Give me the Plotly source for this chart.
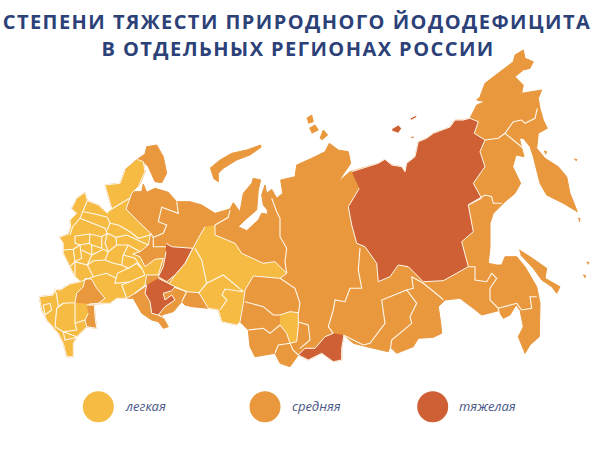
import plotly.graph_objects as go

# цвета степеней тяжести
LIGHT = "#F6BB43"
MEDIUM = "#EA983E"
SEVERE = "#CF6035"
NAVY = "#2C4178"
BORDER = "#FFF9EE"

title_lines = ["СТЕПЕНИ ТЯЖЕСТИ ПРИРОДНОГО ЙОДОДЕФИЦИТА", "В ОТДЕЛЬНЫХ РЕГИОНАХ РОССИИ"]
legend_labels = ["легкая", "средняя", "тяжелая"]
legend_colors = [LIGHT, MEDIUM, SEVERE]
legend_x = [98.3, 265, 432.7]
legend_y = [406.7, 406.7, 406.7]

# контур материка, точки (x, y в пикселях)
mainland = [
    (59.3,237.3),(68.3,234),(70.7,226.7),(70,220),(76.7,213.3),(71.7,208.3),(76.7,198.3),(85,192.3),
    (87.3,200.7),(98.3,205),(107.3,213.3),(111.7,208.3),(105,185),(120,183.3),(125,170),(137.3,159.3),
    (145,154),(146.7,146.7),(156.7,145),(163.3,156.7),(166.7,173.3),(161.7,182.7),(155,181.7),(148.3,166.7),
    (143.3,161.7),(145,171.7),(141,181.7),(138.3,186.7),(131.7,193.3),(133.3,191.7),(141.7,191.7),(143.3,184),
    (146.7,192.3),(155,188.3),(168.3,192.3),(176.7,201.7),(190,201.7),(201.7,205),(215,213.3),(230,209),
    (233.3,202.7),(240,211.7),(243.3,193.3),(251.7,183.3),(253.3,178.3),(260.7,180),(258.3,190),(256.7,210),
    (245,220),(238.3,226.7),(246.7,230.7),(258.3,220),(261.7,213.3),(266.7,214),(268.3,225),(267.3,210),
    (263.3,205),(261.7,195),(265,185),(266.7,193.3),(271.7,189.3),(276.7,198.3),(282.7,193.3),(280.7,180),
    (295,176.7),(296.7,165),(311.7,158.3),(325,151.7),(329.3,143.3),(338.3,150),(348.3,151.7),(350.7,163.3),
    (345,171.7),(338.3,181.7),(350,171.7),(366.7,166.7),(378.3,163.3),(385,159.3),(391.7,165),(401.7,166.7),
    (405,171.7),(406.7,163.3),(415,156.7),(418.3,141.7),(426.7,138.3),(433.3,133.3),(450,127),(455,120),
    (463,120),(470,118.3),(470.7,116.7),(476.7,105),(485,101.7),(476.7,100),(480,96.7),(485,83.3),(500,71.7),
    (513.3,61.7),(515,55),(523.3,50),(525,58.3),(533.3,61.7),(530,68.3),(523.3,70),(515,76.7),(523.3,85),
    (521.7,93.3),(541.7,90),(538.3,98.3),
    (540,108.3),(543.3,120),(547.3,128.3),(538.3,133.3),(536.7,148.3),(545,158.3),(558.3,166.7),(566.7,176.7),
    (570,193.3),(577.3,211.7),(563.3,203.3),(546.7,195),(540,183.3),(533.3,156.7),(530,146.7),(523.3,138.3),
    (519.3,138.3),(524,156.7),(516,155),(512.7,166.7),(520.7,183.3),(515,193.3),(505,201.7),(493.3,213.3),
    (490,223.3),(490,246.7),(488.3,263.3),(496.7,265),(501.7,265),(505,256.7),(516.7,256.7),(525,266.7),
    (536.7,286.7),(540,303.3),(539.3,336.7),(530,345),(525,353.3),(518.3,336.7),(523.3,326.7),(520,310),
    (516,305),(510,315),(503.3,318.3),(498.3,310.7),(481.7,315),(473.3,308.3),(460,298.3),(445,300),
    (438.3,306.7),(440.7,323.3),(441.7,333.3),(433.3,337.3),(418.3,338.3),(413.3,346.7),(396.7,353.3),
    (390,346.7),(388.3,351.7),(366.7,346.7),(353.3,343.3),(344,335),(341.7,348.3),(341.7,360),(333.3,361.7),
    (321.7,353.3),(308.3,360),(298.3,355),(290,366.7),(280,363.3),(275,353.3),(255,356.7),(250,346.7),
    (248.3,330),(240,321.7),(236.7,325),(221.7,321.7),(218.3,310),(208.3,308.3),(191.7,306.7),(185,305),
    (181.7,301.7),(173.3,311.7),(161.7,315),(168.3,326.7),(163.3,328.3),(158.3,321.7),(151.7,320),
    (141.7,313.3),(133.3,298.3),(126.7,298.3),(116.7,298.3),(110,303.3),(98.3,303.3),(89.3,304),(95,316.7),
    (96.7,328.3),(86.7,326.7),(76.7,336.7),(73.3,343.3),(73.3,356.7),(66.7,356.7),(63.3,343.3),(58.3,333.3),
    (46.7,320),(41.7,310),(39.3,296.7),(53.3,295),(55,289.3),(60,290),(70,284),(80,281.7),(75,276.7),
    (70,266.7),(63.3,253.3),(63.3,243.3),
]
novaya_zemlya = [(210,168.3),(220,160),(231.7,153.3),(246.7,150),(260.7,145),(261,147.3),(250,155),(236.7,160),
                 (223.3,168.3),(218.3,173.3),(218.3,181.7),(213.3,178.3)]
sakhalin = [(519.3,250),(530,256.7),(546.7,268.3),(545,278.3),(560,286.7),(556.7,293.3),(551.7,286.7),
            (541.7,280),(533.3,268.3),(520.7,255)]
severnaya_1 = [(306.7,118.3),(311.7,115),(313.3,121.7),(308.3,123.3)]
severnaya_2 = [(309.3,128.3),(315,125),(318.3,130),(311.7,133.3)]
severnaya_3 = [(320,138.3),(323.3,130),(327.7,135),(321.7,140)]
kuril_1 = [(574,159),(577,159.5),(576,161)]
kuril_2 = [(544,151),(546.5,151.5),(545.5,154.5)]
kuril_3 = [(578,218),(580,218.5),(579.5,222)]
kuril_4 = [(586.5,262),(589,262.5),(588,264.5)]
kuril_5 = [(583,275),(585.5,275.5),(585,278)]

# регионы с легкой степенью
west_light = [
    (137.3,159.3),(143.3,161.7),(145,171.7),(141,181.7),(138.3,186.7),(131.7,193.3),(130,198.3),(126,209),
    (136.7,220),(150.7,233.3),(148.3,245),(140,251.7),(132.7,254),(140,256.7),(145,266.7),(155,259.3),
    (163.3,258.3),(158.3,275),(146.7,275),(145,285),(135,293.3),(126.7,298.3),(116.7,298.3),(110,303.3),
    (98.3,303.3),(89.3,304),(95,316.7),(96.7,328.3),(86.7,326.7),(76.7,336.7),(73.3,343.3),(73.3,356.7),
    (66.7,356.7),(63.3,343.3),(58.3,333.3),(46.7,320),(41.7,310),(39.3,296.7),(53.3,295),(55,289.3),(60,290),
    (70,284),(80,281.7),(75,276.7),(70,266.7),(63.3,253.3),(63.3,243.3),(59.3,237.3),(68.3,234),(70.7,226.7),
    (70,220),(76.7,213.3),(71.7,208.3),(76.7,198.3),(85,192.3),(87.3,200.7),(98.3,205),(107.3,213.3),
    (111.7,208.3),(105,185),(120,183.3),(125,170),
]
ural_light = [
    (215,225),(215,235),(235,243.3),(241.7,253.3),(263.3,263.3),(275,261.7),(286.7,273.3),(280,278.3),
    (253.3,276),(245,290),(243.3,303.3),(240,321.7),(236.7,325),(221.7,321.7),(218.3,310),(208.3,308.3),
    (199,292.7),(186.7,291.7),(168.3,285),(175,275),(185,263.3),(192.7,248.3),(198.3,238.3),(205,226.7),
]
kemerovo_light = [(280,315),(290,311.7),(298.3,312.7),(298.3,326.7),(296.7,341.7),(290,343.3),(286.7,333.3),(280,325)]

# средняя степень поверх западного блока
rostov_medium = [(75,302.7),(76.7,293.3),(83.3,286.7),(85,278.3),(91.7,279.3),(96.7,288.3),(105,298.3),(98.3,303.3),(89.3,304)]
dagestan_medium = [(86.7,305),(94.3,305),(95,316.7),(96.7,328.3),(86.7,326.7),(85,320),(88.3,313.3)]

# тяжелая степень
udmurt_severe = [(166,243.3),(171.7,246.7),(192.7,248.3),(185,263.3),(175,275),(166.7,281.7),(158.3,276.7),(163.3,266.7),(166,251.7)]
saratov_severe = [(158.3,278.3),(166.7,282.7),(175,286.7),(171.7,290.7),(163.3,293.3),(165,300),(171.7,295),(175,300),
                  (165,306.7),(158.3,315),(151.7,313.3),(150,301.7),(145,293.3),(146.7,285)]
tuva_severe = [(344,335),(341.7,348.3),(341.7,360),(333.3,361.7),(321.7,353.3),(308.3,360),(298.3,355),(305,348.3),
               (315,348.3),(325,336.7),(333.3,333.3)]
yakutia_severe = [
    (351.7,171.7),(366.7,166.7),(378.3,163.3),(385,159.3),(391.7,165),(401.7,166.7),(405,171.7),(406.7,163.3),
    (415,156.7),(418.3,141.7),(426.7,138.3),(433.3,133.3),(450,127),(455,120),(463,120),(470,118.3),(478.3,121.7),
    (474.3,133.3),(485,140),(480,151.7),(485,166.7),(473.3,183.3),(481.7,198.3),(468.3,205),(473.3,231.7),
    (461.7,241.7),(468.3,266.7),(443.3,280.7),(423.3,281.7),(408.3,266.7),(398.3,265),(390,276.7),(378.3,281.7),
    (376.7,263.3),(365,246.7),(356.7,243.3),(351.7,225),(348.3,206.7),(359.3,188.3),
]
kotelny_1 = [(392.7,128.3),(398.3,125),(401.7,128.3),(398.3,133.3),(392,131)]
kotelny_2 = [(410,118.3),(416.7,115),(416.7,117.3),(411.7,120)]
kotelny_3 = [(409.3,136.7),(415,136),(413.3,138.3)]

# внутренние границы регионов
west_borders = [
    [(110,210),(118,205),(130,198)],
    [(87.3,200.7),(83.3,210),(80,218.3),(72.7,226.7),(70,235)],
    [(83.3,211.7),(95,214),(107.3,217.3)],
    [(80,218.3),(93.3,224),(105,228.3),(107.3,233.3),(101.7,236.7),(90,234),(75,236)],
    [(107.3,217.3),(110,223.3),(107.3,230)],
    [(110,223.3),(118.3,225),(130,231.7),(138.3,238.3),(150,235)],
    [(107.3,233.3),(116,237.3),(126.7,235),(136.7,240),(148.3,245)],
    [(90,234),(89.3,243.3),(80,245),(75,243.3),(75,236)],
    [(101.7,236.7),(101.7,248.3),(91.7,245),(89.3,243.3)],
    [(107.3,233.3),(105,243.3),(108.3,251.7),(116.7,245),(116,237.3)],
    [(116.7,245),(128.3,245),(140,251.7)],
    [(63.3,250),(73.3,249.3),(80,245),(81.7,258.3),(75,261.7),(73.3,249.3)],
    [(70,266.7),(75,261.7),(87.3,265),(91.7,255),(81.7,250)],
    [(91.7,245),(91.7,255),(103.3,249.3),(108.3,251.7),(105,260),(93.3,260.7),(87.3,265)],
    [(105,260),(113.3,263.3),(121.7,265),(123.3,255),(128.3,245)],
    [(123.3,255),(135,258.3),(141.7,268.3),(145,275)],
    [(121.7,265),(128.3,268.3),(136.7,263.3),(141.7,268.3)],
    [(87.3,265),(93.3,276.7),(106.7,273.3),(116,278.3),(117.3,273.3),(128.3,268.3)],
    [(75,261.7),(75,276.7),(80,281.7),(93.3,276.7)],
    [(116,278.3),(115,283.3),(130,281.7),(145,275)],
    [(130,281.7),(121.7,285),(126.7,298.3)],
    [(75,302.7),(63.3,303.3),(58.3,306.7),(56.7,295),(55,289.3)],
    [(63.3,303.3),(56.7,308.3),(55,326.7),(63.3,331.7),(76.7,336.7)],
    [(75,302.7),(75,323.3),(76.7,330),(63.3,331.7)],
    [(85,320),(75,323.3)],
    [(43.3,305),(50,303.3),(51.7,310),(45,315),(43.3,305)],
    [(63.3,331.7),(65,340),(73.3,338.3),(76.7,336.7)],
]
volga_borders = [
    [(176.7,201.7),(178.3,213.3),(161.7,207.3),(158.3,221.7),(166.7,225),(163.3,233.3),(153.3,237.3),(150.7,233.3)],
    [(153.3,237.3),(153.3,246.7),(166,246.7)],
    [(175,286.7),(186.7,291.7),(181.7,301.7)],
    [(158.3,315),(168.3,320)],
    [(135,293.3),(146.7,285)],
    [(230,210),(228.3,217.3),(215,225)],
    [(198.3,293.3),(206.7,283.3),(223.3,275),(236.7,286.7),(243.3,291.7)],
    [(206.7,283.3),(201.7,260),(195,248.3)],
    [(243.3,291.7),(225,289),(222,295),(227,300),(220,310)],
]
siberia_borders = [
    [(271.7,198.3),(276.7,211.7),(280,218.3),(280,236.7),(286.7,248.3),(285,261.7),(286.7,273.3)],
    [(280,278.3),(295,288.3),(300,303.3),(298.3,313.3)],
    [(298.3,322),(308.3,325),(310,340),(300,348.3)],
    [(245,301.7),(263.3,306.7),(273.3,315),(280,315)],
    [(248.3,330),(263.3,328.3),(270,333.3),(280,325)],
    [(275,353.3),(278.3,345),(290,343.3),(293,350),(298.3,355)],
    [(360,248.3),(358.3,270),(361.7,288.3),(350,288.3),(345,301.7),(335,300),(333.3,310),(328.3,326.7),(333.3,333.3)],
    [(343.3,335),(363.3,345),(370,343.3),(385,323.3),(381.7,300),(406.7,290),(416.7,303.3),(410,316.7),(411.7,323.3),(391.7,340),(390,351.7)],
    [(406.7,290),(413.3,288.3),(411.7,276.7),(423.3,283.3),(440,296.7),(443.3,300)],
]
east_borders = [
    [(468.3,266.7),(475,266.7),(475,280),(486.7,281.7),(491.7,273.3),(496.7,278.3),(490,288.3),(490,300),(498.3,308.3),(500,316.7)],
    [(498.3,308.3),(516.7,303.3),(521.7,310),(531.7,308.3),(530,296.7),(536.7,296.7)],
    [(468.3,205),(485,195),(491.7,196.7),(493.3,203.3),(501.7,203.3)],
    [(485,140),(498.3,138.3),(505,133.3),(513.3,121.7),(521.7,120),(525,123.3),(535,118.3),(537.3,108.3)],
    [(505,133.3),(516.7,143.3),(523.3,148.3)],
]

light_regions = [west_light, ural_light, kemerovo_light]
medium_regions = [mainland, novaya_zemlya, sakhalin, severnaya_1, severnaya_2, severnaya_3,
                  kuril_1, kuril_2, kuril_3, kuril_4, kuril_5, rostov_medium, dagestan_medium]
severe_regions = [udmurt_severe, saratov_severe, tuva_severe, yakutia_severe, kotelny_1, kotelny_2, kotelny_3]
border_groups = [west_borders, volga_borders, siberia_borders, east_borders]


def add_region(fig, points, color, line_color):
    fig.add_trace(go.Scatter(
        x=[p[0] for p in points], y=[p[1] for p in points],
        mode="lines", fill="toself", fillcolor=color,
        line=dict(color=line_color, width=1),
        hoverinfo="skip", showlegend=False,
    ))


fig = go.Figure()
for region in medium_regions:
    add_region(fig, region, MEDIUM, MEDIUM)
for region in light_regions:
    add_region(fig, region, LIGHT, BORDER)
for region in severe_regions:
    add_region(fig, region, SEVERE, BORDER)
# подкрасить участки побережья, которые легли под светлые регионы
add_region(fig, rostov_medium, MEDIUM, BORDER)
add_region(fig, dagestan_medium, MEDIUM, BORDER)

for group in border_groups:
    for seg in group:
        fig.add_trace(go.Scatter(
            x=[p[0] for p in seg], y=[p[1] for p in seg], mode="lines",
            line=dict(color=BORDER, width=1.1), hoverinfo="skip", showlegend=False,
        ))

fig.add_trace(go.Scatter(
    x=legend_x, y=legend_y, mode="markers",
    marker=dict(size=31, color=legend_colors, line=dict(width=0)),
    hoverinfo="skip", showlegend=False,
))
for x, y, label in zip(legend_x, legend_y, legend_labels):
    fig.add_annotation(x=x + 24.5, y=y - 0.5, text=f"<i>{label}</i>", showarrow=False, xanchor="left",
                       font=dict(family="Open Sans", size=13, color="#4A5788"))

fig.add_annotation(x=297, y=21.7, text=f"<b>{title_lines[0]}</b>", showarrow=False,
                   font=dict(family="Open Sans", size=20, color=NAVY))
fig.add_annotation(x=298, y=48.5, text=f"<b>{title_lines[1]}</b>", showarrow=False,
                   font=dict(family="Open Sans", size=20, color=NAVY))

fig.update_xaxes(range=[0, 598], visible=False, fixedrange=True)
fig.update_yaxes(range=[455, 0], visible=False, fixedrange=True)
fig.update_layout(width=598, height=455, margin=dict(l=0, r=0, t=0, b=0),
                  paper_bgcolor="white", plot_bgcolor="white")

fig.write_html("out.html", config={"displayModeBar": False},
               post_script="document.body.style.margin='0';"
                           "document.querySelectorAll('.annotation-text').forEach(function(t){"
                           "if(t.textContent.length>20){t.style.letterSpacing='1.45px';}});")
